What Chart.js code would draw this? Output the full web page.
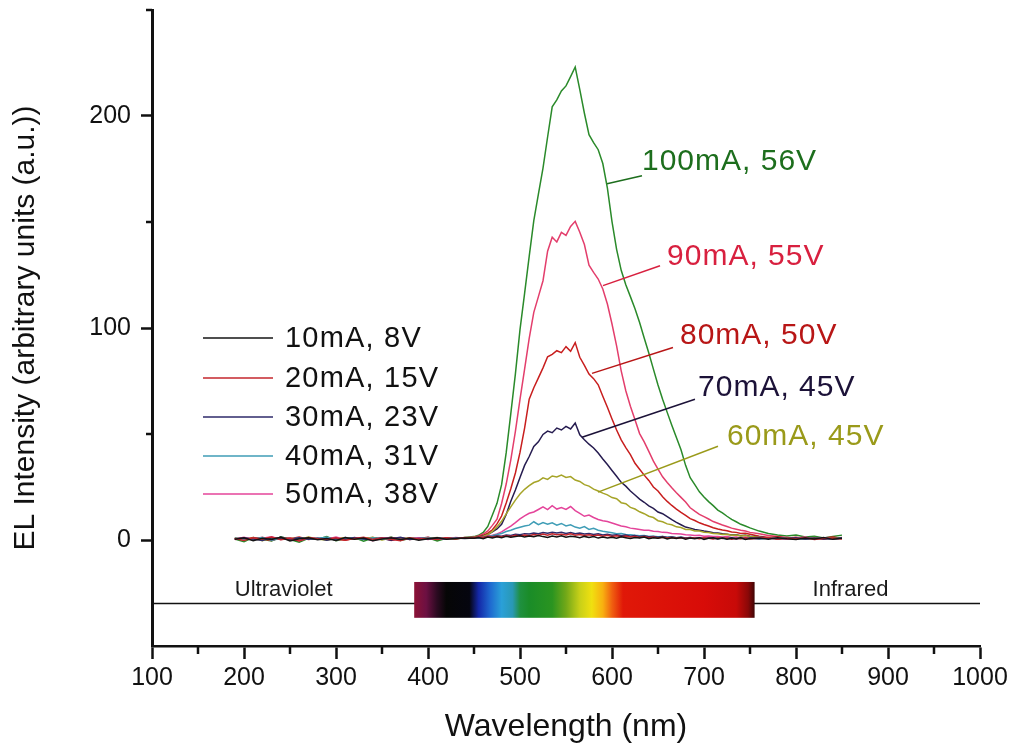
<!DOCTYPE html>
<html>
<head>
<meta charset="utf-8">
<script src="https://cdn.jsdelivr.net/npm/chart.js@4.4.1/dist/chart.umd.min.js"></script>
<style>
  html, body { margin: 0; padding: 0; background: #ffffff; }
  #wrap { width: 1014px; height: 751px; }
</style>
</head>
<body>
<div id="wrap"><canvas id="c" width="1014" height="751"></canvas></div>
<script>
// Electroluminescence spectra at increasing drive current

const wavelengths = [
  190,200,210,220,230,240,250,260,270,280,290,300,310,320,330,340,350,360,370,380,390,400,410,420,430,440,
  450,455,460,465,470,475,480,485,490,495,500,505,510,515,520,525,530,535,540,545,550,555,560,565,570,575,
  580,585,590,595,600,605,610,615,620,625,630,635,640,645,650,655,660,665,670,675,680,685,690,695,700,705,
  710,715,720,725,730,735,740,745,750,
  760,770,780,790,800,810,820,830,840,850
];

const seriesLabels = ['10mA, 8V','20mA, 15V','30mA, 23V','40mA, 31V','50mA, 38V',
                      '60mA, 45V','70mA, 45V','80mA, 50V','90mA, 55V','100mA, 56V'];

const el10mA = [
  0.4,1.1,-0.3,0.8,0.2,1.3,-0.5,0.6,1.0,0.1,0.7,-0.2,1.2,0.4,0.9,-0.4,0.5,1.1,0.2,0.8,-0.1,0.6,1.0,0.3,0.7,0.9,
  0.8,1.2,0.6,1.4,0.9,1.5,1.1,1.8,1.3,1.6,2.0,1.4,1.9,1.5,2.1,1.6,1.2,1.9,1.4,2.0,1.3,1.8,1.5,1.1,1.7,1.2,
  1.6,0.9,1.4,1.0,1.3,0.8,1.5,1.1,0.7,1.2,0.9,1.4,0.6,1.1,0.8,1.3,0.5,1.0,0.7,1.2,0.4,0.9,0.6,1.1,0.3,0.8,
  1.0,0.5,0.9,0.4,0.8,0.6,1.0,0.3,0.7,
  0.9,0.4,1.1,0.6,0.2,0.9,0.5,1.2,0.3,0.8
];
const el20mA = [
  0.7,-0.2,1.0,0.5,1.4,0.1,0.8,-0.4,1.2,0.6,0.3,1.0,-0.1,0.7,1.3,0.2,0.9,0.4,-0.3,1.1,0.5,0.8,0.2,1.0,0.6,1.2,
  1.0,1.4,1.1,1.6,1.3,1.8,1.5,2.0,1.7,2.2,1.9,2.4,2.0,2.6,2.2,2.8,2.3,2.9,2.5,2.7,2.4,2.9,2.3,2.6,2.1,2.5,
  2.0,2.3,1.8,2.2,1.7,2.0,1.5,1.9,1.4,1.7,1.2,1.6,1.1,1.4,1.0,1.3,0.9,1.2,0.8,1.1,0.7,1.0,0.9,0.6,1.1,0.8,
  0.5,1.0,0.7,0.9,0.4,0.8,0.6,1.0,0.5,
  0.8,1.2,0.3,0.9,0.6,1.1,0.2,0.7,1.0,0.5
];
const el30mA = [
  0.3,0.9,0.5,-0.2,1.1,0.6,0.2,1.0,0.4,0.8,-0.1,0.7,0.3,1.2,0.5,0.1,0.9,0.6,1.3,0.2,0.7,0.4,1.0,0.6,0.8,1.1,
  1.1,1.3,1.2,1.6,1.5,2.0,1.8,2.3,2.1,2.7,2.5,3.0,2.8,3.3,3.0,3.5,3.2,3.6,3.3,3.7,3.1,3.5,3.0,3.3,2.8,3.1,
  2.6,2.9,2.4,2.7,2.2,2.5,2.0,2.3,1.8,2.1,1.6,1.9,1.5,1.7,1.3,1.6,1.2,1.4,1.1,1.3,0.9,1.2,0.8,1.1,0.7,1.0,
  0.8,0.6,0.9,0.7,1.0,0.5,0.8,0.6,0.9,
  0.6,1.0,0.4,0.8,1.1,0.5,0.9,0.3,0.7,1.0
];
const el40mA = [
  0.9,0.2,0.6,1.2,-0.1,0.7,0.4,1.0,0.3,0.8,1.3,0.1,0.6,0.9,0.2,1.1,0.5,0.7,0.0,0.9,0.6,1.2,0.4,0.7,1.0,0.8,
  0.9,1.1,1.0,1.6,2.0,2.6,3.1,4.0,4.6,5.4,6.0,6.6,7.0,8.6,7.2,8.2,7.4,8.1,7.0,7.8,6.6,7.2,6.1,5.6,6.3,5.0,
  5.5,4.6,4.1,3.8,3.4,3.0,3.1,2.6,2.5,2.2,2.0,2.1,1.7,1.8,1.5,1.6,1.3,1.5,1.1,1.3,1.0,1.2,0.9,1.1,0.8,1.0,
  0.7,1.1,0.8,0.6,0.9,0.7,1.0,0.6,0.8,
  0.5,0.9,0.7,1.1,0.4,0.8,0.6,1.0,0.5,0.9
];
const el50mA = [
  0.5,1.3,0.1,0.8,1.5,0.3,0.9,-0.2,1.1,0.6,0.4,1.4,0.2,0.7,1.0,-0.3,0.8,1.2,0.3,0.6,1.0,0.2,0.9,0.5,1.2,0.8,
  1.0,1.2,1.4,1.9,2.3,2.9,3.8,5.2,6.6,8.2,10.0,11.4,12.6,13.2,14.4,15.6,14.3,16.2,14.6,15.3,14.4,15.8,13.9,12.6,11.2,11.8,
  10.6,9.7,9.1,8.7,8.0,7.3,6.6,6.2,5.6,5.3,5.0,4.6,4.6,4.1,4.0,3.6,3.5,3.1,3.0,2.8,2.5,2.4,2.1,2.2,1.8,1.9,
  1.6,1.7,1.4,1.6,1.2,1.4,1.0,1.3,0.9,
  1.2,0.7,1.0,0.4,0.9,1.3,0.6,1.0,0.3,0.8
];
const el60mA = [
  1.0,0.4,0.8,-0.3,1.2,0.6,0.9,0.2,1.4,0.5,-0.1,0.8,1.1,0.4,0.6,1.3,0.0,0.9,0.5,1.0,0.3,0.7,1.2,0.5,0.9,1.1,
  1.2,1.4,1.8,2.6,4.0,6.2,8.8,12.3,15.6,18.8,21.7,23.9,25.6,27.1,27.8,29.3,28.6,30.2,29.7,30.6,29.5,29.9,28.3,27.6,26.1,25.4,
  24.0,23.1,22.1,21.3,20.0,19.5,17.6,17.1,15.4,14.6,13.3,12.4,11.2,10.6,9.1,8.6,7.6,7.2,6.2,5.9,5.0,4.9,4.3,4.2,3.7,3.5,
  3.1,3.0,2.6,2.7,2.2,2.4,1.9,2.1,1.7,
  1.3,0.8,1.1,0.5,1.0,0.6,1.2,0.4,0.9,1.1
];
const el70mA = [
  0.6,1.0,0.2,0.9,0.4,1.3,0.7,-0.2,1.0,0.5,0.8,0.1,1.2,0.6,0.3,1.0,0.7,-0.1,0.9,0.4,1.1,0.6,0.3,0.8,1.0,0.7,
  1.0,1.3,1.9,2.6,3.8,5.2,7.4,12.0,18.3,23.6,29.5,35.2,39.4,44.1,46.3,49.8,51.4,50.6,52.8,51.9,53.6,52.4,55.2,49.6,47.3,45.2,
  43.4,41.0,38.2,35.6,32.8,30.1,27.2,25.4,23.1,21.2,19.3,17.8,16.1,14.9,13.2,12.4,11.0,9.6,8.3,7.2,6.1,5.6,5.0,4.6,4.2,3.9,
  3.4,3.3,2.9,2.7,2.4,2.5,2.0,2.2,1.8,
  1.4,0.9,1.2,0.6,1.0,0.4,0.8,1.1,0.5,0.9
];
const el80mA = [
  0.8,0.3,1.2,0.5,-0.2,1.0,0.6,1.4,0.2,0.7,1.1,0.4,-0.1,0.9,0.5,1.2,0.3,0.8,1.0,0.2,0.7,1.3,0.4,0.9,0.6,1.0,
  1.2,1.6,2.2,3.2,4.8,7.6,11.3,17.5,24.2,31.6,41.3,52.8,66.4,71.8,76.5,81.2,86.4,87.6,89.3,88.4,91.2,89.0,93.1,86.2,82.4,78.3,
  76.1,73.2,67.8,62.6,57.1,51.9,47.2,43.6,40.3,36.2,33.4,30.6,28.1,25.0,23.1,20.4,18.2,16.3,14.6,13.0,11.6,10.1,9.2,8.1,7.3,6.6,
  5.8,5.2,4.7,4.4,3.8,3.6,3.1,3.2,2.7,
  1.8,1.2,1.5,0.8,1.3,0.6,1.1,0.9,1.4,0.7
];
const el90mA = [
  0.2,0.9,0.5,1.3,0.1,0.7,1.0,-0.3,0.8,0.4,1.2,0.6,0.2,1.0,0.7,0.3,1.1,-0.2,0.6,0.9,0.4,1.2,0.5,0.8,1.1,0.9,
  1.4,1.9,2.8,4.3,6.9,9.8,17.2,26.4,37.8,51.2,66.3,80.6,95.1,107.4,114.8,122.3,136.2,142.8,140.6,145.1,143.7,147.9,150.3,145.2,139.4,129.6,
  126.2,123.1,118.4,111.3,101.9,91.6,79.8,70.4,63.1,56.7,50.2,46.3,41.8,37.2,33.4,29.8,27.1,24.6,22.3,20.1,17.9,15.2,13.6,12.1,11.0,9.9,
  8.7,7.9,7.1,6.4,5.6,5.1,4.6,4.2,3.6,
  2.9,2.1,1.6,1.2,0.8,1.3,0.5,1.0,0.7,1.2
];
const el100mA = [
  0.5,-0.8,1.2,0.3,-0.5,1.5,0.2,-1.0,0.8,0.4,1.6,-0.3,0.6,1.1,-0.6,0.9,0.2,1.4,-0.2,0.7,0.3,1.0,-0.4,0.8,0.5,1.2,
  1.6,2.2,3.6,6.4,11.8,17.3,26.1,41.2,59.6,78.4,99.2,116.3,133.8,150.6,163.2,175.4,190.1,204.3,207.6,211.8,214.2,218.6,223.1,212.4,201.3,191.2,
  187.4,184.1,177.6,166.0,150.2,137.1,127.2,120.4,114.8,109.1,102.6,95.3,88.2,80.6,73.1,66.4,60.2,54.1,48.3,42.6,35.2,29.4,26.1,22.7,20.3,18.1,
  16.2,14.1,12.8,11.2,9.7,8.6,7.4,6.6,5.7,
  4.2,3.1,2.4,1.9,2.3,1.4,1.8,0.9,1.6,2.3
];

const seriesValues = [el10mA, el20mA, el30mA, el40mA, el50mA, el60mA, el70mA, el80mA, el90mA, el100mA];
const seriesColors = ['#141414','#c4262c','#2e2a6a','#3f9db6','#e4449a',
                      '#a6a428','#261c50','#c81e1e','#e33e6c','#2a8a2a'];

// axis ticks
const xTicks = [100,200,300,400,500,600,700,800,900,1000];
const xMinorTicks = [150,250,350,450,550,650,750,850,950];
const yTicks = [0,100,200];
const yMinorTicks = [50,150,250];

// visible-spectrum band and the UV / IR guide line
const bandLineX = [100, 1000];
const bandLineLevel = -30;
const spectrumRange = [385, 755];
const spectrumBand = [-36.7, -19.8];
const spectrumStops  = [385, 398, 410, 420, 445, 455, 468, 480, 492, 500, 510, 535, 550, 565, 578, 590, 600, 612, 700, 735, 748, 755];
const spectrumColors = ['#8c1236','#6c1042','#2a0a20','#060606','#05050f','#1428a8','#1f6bd0','#2aa0d8','#2998b4','#1f9040',
                        '#1a8c28','#2a9420','#72a818','#c8d018','#f0e010','#f8b010','#f06010','#e01808','#d80c08','#c80a08','#8a0808','#400505'];
const regionLabels = ['Ultraviolet', 'Infrared'];
const regionLabelX = [190, 818];
const regionLabelY = -23.5;

// callout labels for the higher-current curves
const calloutText   = ['100mA, 56V','90mA, 55V','80mA, 50V','70mA, 45V','60mA, 45V'];
const calloutColors = ['#1d6e1d','#d8203f','#b81616','#1c1238','#9a9a1a'];
const calloutFromX  = [594.6, 590.2, 578.3, 567.4, 584.8];
const calloutFromY  = [168.0, 120.0, 78.6, 48.5, 22.6];
const calloutToX    = [632.6, 652.2, 666.3, 690.2, 715.2];
const calloutToY    = [171.8, 129.4, 90.8, 66.4, 44.2];
const calloutTextX  = [632.6, 659.8, 673.9, 693.5, 725.0];
const calloutTextY  = [178.4, 133.6, 96.5, 72.0, 48.5];

const FONT = "'Liberation Sans', Arial, Helvetica, sans-serif";

const datasets = seriesValues.map((vals, i) => ({
  label: seriesLabels[i],
  data: wavelengths.map((w, k) => ({ x: w, y: vals[k] })),
  borderColor: seriesColors[i],
  borderWidth: 1.5,
  pointRadius: 0,
  tension: 0,
  fill: false
}));
datasets.push({
  label: 'guide',
  data: bandLineX.map(v => ({ x: v, y: bandLineLevel })),
  borderColor: '#111111',
  borderWidth: 1.5,
  pointRadius: 0,
  fill: false
});

const overlay = {
  id: 'overlay',
  afterDatasetsDraw(chart) {
    const { ctx, chartArea, scales: { x, y } } = chart;
    ctx.save();

    // spectrum strip
    const x0 = x.getPixelForValue(spectrumRange[0]);
    const x1 = x.getPixelForValue(spectrumRange[1]);
    const yTop = y.getPixelForValue(spectrumBand[1]);
    const yBot = y.getPixelForValue(spectrumBand[0]);
    const grad = ctx.createLinearGradient(x0, 0, x1, 0);
    spectrumStops.forEach((nm, i) => {
      grad.addColorStop((nm - spectrumRange[0]) / (spectrumRange[1] - spectrumRange[0]), spectrumColors[i]);
    });
    ctx.fillStyle = grad;
    ctx.fillRect(x0, yTop, x1 - x0, yBot - yTop);

    // UV / IR labels
    ctx.fillStyle = '#1a1a1a';
    ctx.font = '22px ' + FONT;
    ctx.textAlign = 'left';
    ctx.textBaseline = 'middle';
    regionLabels.forEach((t, i) => {
      ctx.fillText(t, x.getPixelForValue(regionLabelX[i]), y.getPixelForValue(regionLabelY));
    });

    // callouts
    ctx.font = '30px ' + FONT;
    if ('letterSpacing' in ctx) ctx.letterSpacing = '1px';
    calloutText.forEach((t, i) => {
      ctx.strokeStyle = calloutColors[i];
      ctx.lineWidth = 1.5;
      ctx.beginPath();
      ctx.moveTo(x.getPixelForValue(calloutFromX[i]), y.getPixelForValue(calloutFromY[i]));
      ctx.lineTo(x.getPixelForValue(calloutToX[i]), y.getPixelForValue(calloutToY[i]));
      ctx.stroke();
      ctx.fillStyle = calloutColors[i];
      ctx.fillText(t, x.getPixelForValue(calloutTextX[i]), y.getPixelForValue(calloutTextY[i]));
    });

    // legend for the low-current curves
    ctx.font = '29px ' + FONT;
    if ('letterSpacing' in ctx) ctx.letterSpacing = '1.2px';
    const rows = [328, 368, 407, 446, 484];
    rows.forEach((dy, i) => {
      const yy = chartArea.top + dy;
      ctx.strokeStyle = seriesColors[i];
      ctx.lineWidth = 1.6;
      ctx.beginPath();
      ctx.moveTo(chartArea.left + 51, yy);
      ctx.lineTo(chartArea.left + 121, yy);
      ctx.stroke();
      ctx.fillStyle = '#111111';
      ctx.fillText(seriesLabels[i], chartArea.left + 133, yy + 1);
    });
    if ('letterSpacing' in ctx) ctx.letterSpacing = '0px';
    ctx.restore();
  },
  afterDraw(chart) {
    const { ctx, chartArea, scales: { x, y } } = chart;
    ctx.save();
    ctx.strokeStyle = '#111111';
    ctx.lineWidth = 2.5;
    xMinorTicks.forEach(v => {
      const px = x.getPixelForValue(v);
      ctx.beginPath();
      ctx.moveTo(px, chartArea.bottom);
      ctx.lineTo(px, chartArea.bottom + 8);
      ctx.stroke();
    });
    yMinorTicks.forEach(v => {
      const py = y.getPixelForValue(v);
      ctx.beginPath();
      ctx.moveTo(chartArea.left - 6, py);
      ctx.lineTo(chartArea.left, py);
      ctx.stroke();
    });
    ctx.restore();
  }
};

new Chart(document.getElementById('c'), {
  type: 'line',
  data: { datasets },
  options: {
    responsive: false,
    animation: false,
    devicePixelRatio: 1,
    layout: { padding: { top: 10, right: 34, left: 0, bottom: 0 } },
    plugins: { legend: { display: false }, tooltip: { enabled: false } },
    scales: {
      x: {
        type: 'linear', min: 100, max: 1000,
        afterBuildTicks: s => { s.ticks = xTicks.map(v => ({ value: v })); },
        afterFit: s => { s.height = 105; s.paddingLeft = 0; s.paddingRight = 0; },
        ticks: { font: { family: FONT, size: 25 }, color: '#111111', padding: 4, maxRotation: 0, autoSkip: false,
                 callback: v => String(v) },
        grid: { drawOnChartArea: false, drawTicks: true, tickLength: 13, tickWidth: 2.5, tickColor: '#111111' },
        border: { display: true, color: '#111111', width: 2.5 },
        title: { display: true, text: 'Wavelength (nm)', color: '#111111',
                 font: { family: FONT, size: 32 }, padding: { top: 0, bottom: 5 } }
      },
      y: {
        type: 'linear', min: -50, max: 250,
        afterBuildTicks: s => { s.ticks = yTicks.map(v => ({ value: v })); },
        afterFit: s => { s.width = 152; s.paddingTop = 0; s.paddingBottom = 0; },
        ticks: { font: { family: FONT, size: 25 }, color: '#111111', padding: 10, autoSkip: false,
                 callback: v => String(v) },
        grid: { drawOnChartArea: false, drawTicks: true, tickLength: 11, tickWidth: 2.5, tickColor: '#111111' },
        border: { display: true, color: '#111111', width: 3 },
        title: { display: true, text: 'EL Intensity (arbitrary units (a.u.))', color: '#111111',
                 font: { family: FONT, size: 30 }, padding: { top: 8, bottom: 0 } }
      }
    }
  },
  plugins: [overlay]
});
</script>
</body>
</html>
